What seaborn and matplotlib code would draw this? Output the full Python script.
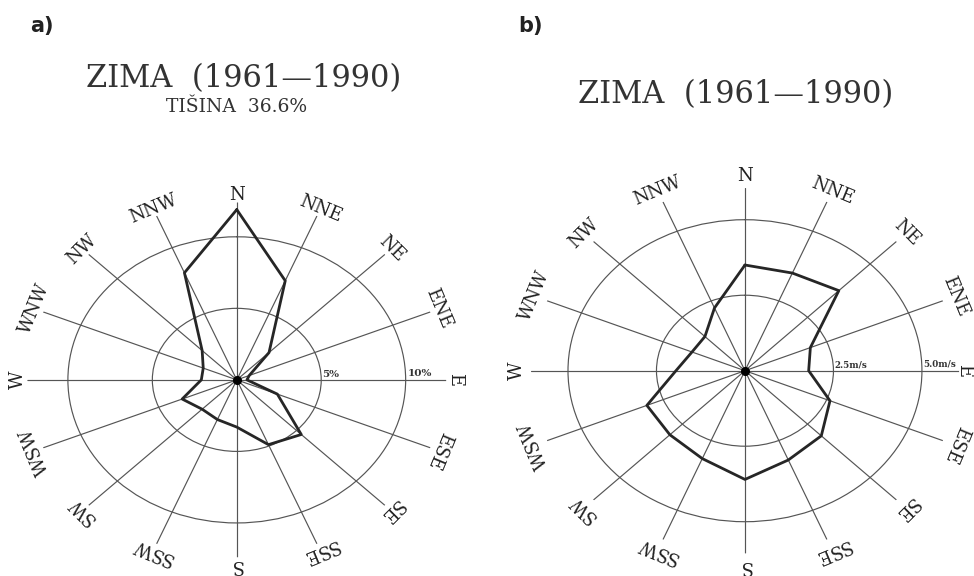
import numpy as np
import matplotlib
matplotlib.use("Agg")
import matplotlib.pyplot as plt
import seaborn as sns

directions = ['N', 'NNE', 'NE', 'ENE', 'E', 'ESE', 'SE', 'SSE',
              'S', 'SSW', 'SW', 'WSW', 'W', 'WNW', 'NW', 'NNW']

# a) frequency of wind direction (%), winter 1961-1990
freq_a = [11.9, 7.5, 2.7, 0.8, 0.6, 2.6, 5.4, 4.9,
          3.3, 3.0, 2.9, 3.5, 2.1, 2.15, 2.9, 8.1]
rings_a = [5, 10]
ring_labels_a = ['5%', '10%']

# b) mean wind speed by direction (m/s)
speed_b = [3.5, 3.5, 3.75, 2.0, 1.8, 2.6, 3.05, 3.2,
           3.6, 3.15, 3.0, 3.0, 1.95, 1.62, 1.6, 2.25]
rings_b = [2.5, 5.0]
ring_labels_b = ['2.5m/s', '5.0m/s']

title = "ZIMA  (1961\u20141990)"
calm_text = "TI\u0160INA  36.6%"

sns.set_style("white")
plt.rcParams['font.family'] = ['DejaVu Serif', 'DejaVu Sans']

GRID = '#555555'
LINE = '#262626'


def wind_rose(ax, values, rings, ring_labels, rmax, rlab, rlab_e=None,
              ring_fs=7.5):
    theta = np.deg2rad(np.arange(len(values)) * 22.5)
    ax.set_theta_zero_location('N')
    ax.set_theta_direction(-1)
    ax.set_aspect('auto')
    ax.set_facecolor('none')
    ax.spines['polar'].set_visible(False)

    ax.set_xticks(theta)
    ax.set_xticklabels([])
    ax.set_yticks(rings)
    ax.set_yticklabels([])
    ax.set_ylim(0, rmax)
    ax.grid(True, color=GRID, lw=0.85)
    ax.set_axisbelow(True)

    # closed polygon
    th = np.append(theta, 2 * np.pi)
    rv = np.append(values, values[0])
    sns.lineplot(x=th, y=rv, ax=ax, sort=False, color=LINE, lw=2.0)
    ax.plot([0], [0], 'o', color='black', ms=5.5)

    for t, lab in zip(theta, directions):
        deg = np.rad2deg(t)
        r = rlab_e if (lab == 'E' and rlab_e) else rlab
        ax.text(t, r, lab, rotation=-deg, rotation_mode='anchor',
                ha='center', va='center', fontsize=13, color='#222222')

    for r, lab in zip(rings, ring_labels):
        ax.text(np.pi / 2 - 0.015, r * 1.01, lab, ha='left', va='bottom',
                fontsize=ring_fs, weight='bold', color='#333333')
    ax.set_xlabel('')
    ax.set_ylabel('')


fig = plt.figure(figsize=(9.74, 5.76), dpi=100)

ax_a = fig.add_axes([0.0281, 0.0325, 0.430, 0.616], projection='polar')
wind_rose(ax_a, freq_a, rings_a, ring_labels_a, 12.4, 12.95)

ax_b = fig.add_axes([0.545, 0.0392, 0.4397, 0.6344], projection='polar')
wind_rose(ax_b, speed_b, rings_b, ring_labels_b, 6.05, 6.45, rlab_e=6.2,
          ring_fs=6.3)

fig.text(0.031, 0.955, 'a)', fontsize=15, weight='bold',
         family='DejaVu Sans', va='center', ha='left', color='#222222')
fig.text(0.532, 0.955, 'b)', fontsize=15, weight='bold',
         family='DejaVu Sans', va='center', ha='left', color='#222222')

fig.text(243.5 / 974, 1 - 79 / 576, title, fontsize=22,
         ha='center', va='center', color='#333333')
fig.text(237 / 974, 1 - 107 / 576, calm_text, fontsize=13.5,
         ha='center', va='center', color='#333333')
fig.text(735.5 / 974, 1 - 95 / 576, title, fontsize=22,
         ha='center', va='center', color='#333333')

fig.savefig('out.png', dpi=100, facecolor='white')
